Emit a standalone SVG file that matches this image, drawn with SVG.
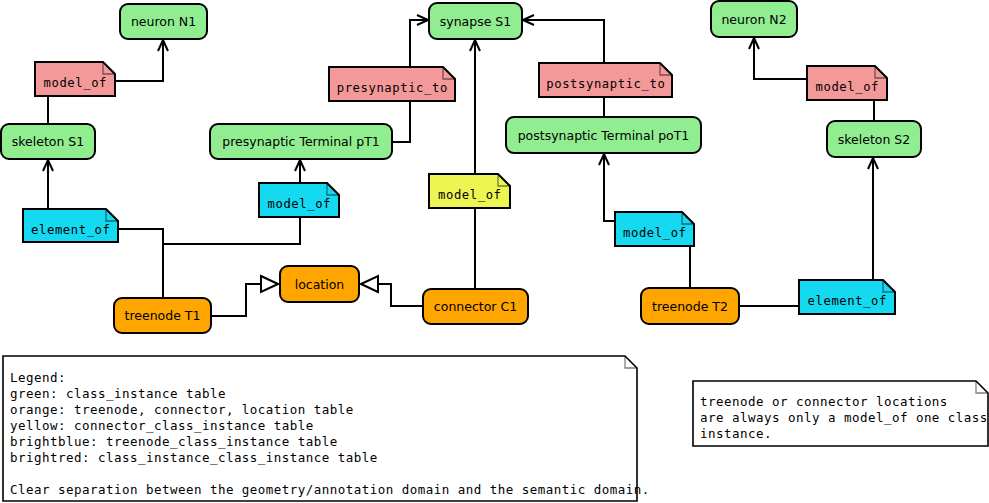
<svg xmlns="http://www.w3.org/2000/svg" width="989" height="503" viewBox="0 0 989 503">
<style>
.node{stroke:#000;stroke-width:2}
.green{fill:#90EE90}
.orange{fill:#FFA500}
.red{fill:#F4999A}
.blue{fill:#15D9F0}
.yellow{fill:#EDF552}
.note{stroke:#000;stroke-width:2}
.fold{fill:none;stroke:#000;stroke-opacity:0.5;stroke-width:1.3}
.paper{fill:#fff;stroke:#000;stroke-width:1.6}
.lbl{font-family:"DejaVu Sans",sans-serif;font-size:12.5px;fill:#000;text-anchor:middle}
.mono{font-family:"DejaVu Sans Mono",monospace;font-size:12.2px;letter-spacing:0.6px;fill:#000;text-anchor:middle}
.txt{font-family:"DejaVu Sans Mono",monospace;font-size:12.5px;letter-spacing:0.47px;fill:#000}
.conn{fill:none;stroke:#000;stroke-width:2}
</style>
<defs>
<marker id="arrow" viewBox="-12 -7 14 14" refX="0" refY="0" markerWidth="14" markerHeight="14" markerUnits="userSpaceOnUse" orient="auto">
<path d="M-11,-5 L0,0 L-11,5" fill="none" stroke="#000" stroke-width="2"/>
</marker>
<marker id="gen" viewBox="-19 -10 21 20" refX="0" refY="0" markerWidth="21" markerHeight="20" markerUnits="userSpaceOnUse" orient="auto">
<path d="M-17,-8 L0,0 L-17,8 Z" fill="#fff" stroke="#000" stroke-width="2"/>
</marker>
</defs>
<rect width="989" height="503" fill="#fff"/>
<g id="connectors">
<path class="conn" d="M115,81 H163 V40" marker-end="url(#arrow)"/>
<path class="conn" d="M48,96 V124"/>
<path class="conn" d="M48,209 V160" marker-end="url(#arrow)"/>
<path class="conn" d="M118,229 H163 V298"/>
<path class="conn" d="M300,217 V244 H163"/>
<path class="conn" d="M300,183 V160" marker-end="url(#arrow)"/>
<path class="conn" d="M392,142 H410 V20 H428" marker-end="url(#arrow)"/>
<path class="conn" d="M604,117 V20 H523" marker-end="url(#arrow)"/>
<path class="conn" d="M475,289 V40" marker-end="url(#arrow)"/>
<path class="conn" d="M615,221 H604 V154" marker-end="url(#arrow)"/>
<path class="conn" d="M690,246 V288"/>
<path class="conn" d="M739,306 H799"/>
<path class="conn" d="M873,280 V158" marker-end="url(#arrow)"/>
<path class="conn" d="M807,79 H754 V38" marker-end="url(#arrow)"/>
<path class="conn" d="M874,100 V121"/>
<path class="conn" d="M211,316 H246 V284 H278" marker-end="url(#gen)"/>
<path class="conn" d="M423,306 H391 V284 H361" marker-end="url(#gen)"/>
</g>
<g id="neuronN1"><rect class="node green" x="120" y="4" width="87" height="35" rx="8"/><text class="lbl" x="163.5" y="26">neuron N1</text></g>
<g id="skeletonS1"><rect class="node green" x="1" y="124" width="94" height="35" rx="8"/><text class="lbl" x="48" y="146">skeleton S1</text></g>
<g id="pT1"><rect class="node green" x="210" y="124" width="182" height="35" rx="8"/><text class="lbl" x="301" y="146">presynaptic Terminal pT1</text></g>
<g id="synapseS1"><rect class="node green" x="429" y="3" width="93" height="36" rx="8"/><text class="lbl" x="475.5" y="25.5">synapse S1</text></g>
<g id="poT1"><rect class="node green" x="506" y="117" width="195" height="36" rx="8"/><text class="lbl" x="603.5" y="139.5">postsynaptic Terminal poT1</text></g>
<g id="neuronN2"><rect class="node green" x="711" y="1" width="86" height="36" rx="8"/><text class="lbl" x="754" y="23.5">neuron N2</text></g>
<g id="skeletonS2"><rect class="node green" x="827" y="121" width="94" height="36" rx="8"/><text class="lbl" x="874" y="143.5">skeleton S2</text></g>
<g id="treenodeT1"><rect class="node orange" x="114" y="298" width="97" height="35" rx="8"/><text class="lbl" x="162.5" y="320">treenode T1</text></g>
<g id="location"><rect class="node orange" x="280" y="266" width="79" height="36" rx="8"/><text class="lbl" x="319.5" y="288.5">location</text></g>
<g id="connectorC1"><rect class="node orange" x="423" y="289" width="105" height="35" rx="8"/><text class="lbl" x="475.5" y="311">connector C1</text></g>
<g id="treenodeT2"><rect class="node orange" x="641" y="288" width="98" height="36" rx="8"/><text class="lbl" x="690" y="310.5">treenode T2</text></g>
<g id="modelOfN1"><path class="note red" d="M35,62 H103 L115,74 V96 H35 Z"/><path class="fold" d="M103,62 V74 H115"/><text class="mono" x="75.3" y="87">model_of</text></g>
<g id="presynapticTo"><path class="note red" d="M329,67 H443 L455,79 V101 H329 Z"/><path class="fold" d="M443,67 V79 H455"/><text class="mono" x="392.3" y="92">presynaptic_to</text></g>
<g id="postsynapticTo"><path class="note red" d="M539,63 H660 L672,75 V97 H539 Z"/><path class="fold" d="M660,63 V75 H672"/><text class="mono" x="605.8" y="88">postsynaptic_to</text></g>
<g id="modelOfN2"><path class="note red" d="M807,66 H875 L887,78 V100 H807 Z"/><path class="fold" d="M875,66 V78 H887"/><text class="mono" x="847.3" y="91">model_of</text></g>
<g id="elementOfS1"><path class="note blue" d="M23,209 H106 L118,221 V242 H23 Z"/><path class="fold" d="M106,209 V221 H118"/><text class="mono" x="70.8" y="234">element_of</text></g>
<g id="modelOfPT1"><path class="note blue" d="M259,183 H327 L339,195 V217 H259 Z"/><path class="fold" d="M327,183 V195 H339"/><text class="mono" x="299.3" y="208">model_of</text></g>
<g id="modelOfSynapse"><path class="note yellow" d="M429,174 H498 L510,186 V208 H429 Z"/><path class="fold" d="M498,174 V186 H510"/><text class="mono" x="469.8" y="199">model_of</text></g>
<g id="modelOfPoT1"><path class="note blue" d="M615,212 H682 L694,224 V246 H615 Z"/><path class="fold" d="M682,212 V224 H694"/><text class="mono" x="654.8" y="237">model_of</text></g>
<g id="elementOfS2"><path class="note blue" d="M799,280 H883 L895,292 V314 H799 Z"/><path class="fold" d="M883,280 V292 H895"/><text class="mono" x="847.3" y="305">element_of</text></g>
<g id="legend"><path class="paper" d="M3,356 H625 L637,368 V501 H3 Z"/><path class="fold" d="M625,356 V368 H637"/>
<text class="txt" x="10" y="382">Legend:</text>
<text class="txt" x="10" y="398">green: class_instance table</text>
<text class="txt" x="10" y="414">orange: treenode, connector, location table</text>
<text class="txt" x="10" y="430">yellow: connector_class_instance table</text>
<text class="txt" x="10" y="446">brightblue: treenode_class_instance table</text>
<text class="txt" x="10" y="462">brightred: class_instance_class_instance table</text>
<text class="txt" x="10" y="494">Clear separation between the geometry/annotation domain and the semantic domain.</text>
</g>
<g id="locationNote"><path class="paper" d="M693,381 H976 L988,393 V446 H693 Z"/><path class="fold" d="M976,381 V393 H988"/>
<text class="txt" x="700" y="406">treenode or connector locations</text>
<text class="txt" x="700" y="422">are always only a model_of one class</text>
<text class="txt" x="700" y="438">instance.</text>
</g>
</svg>
